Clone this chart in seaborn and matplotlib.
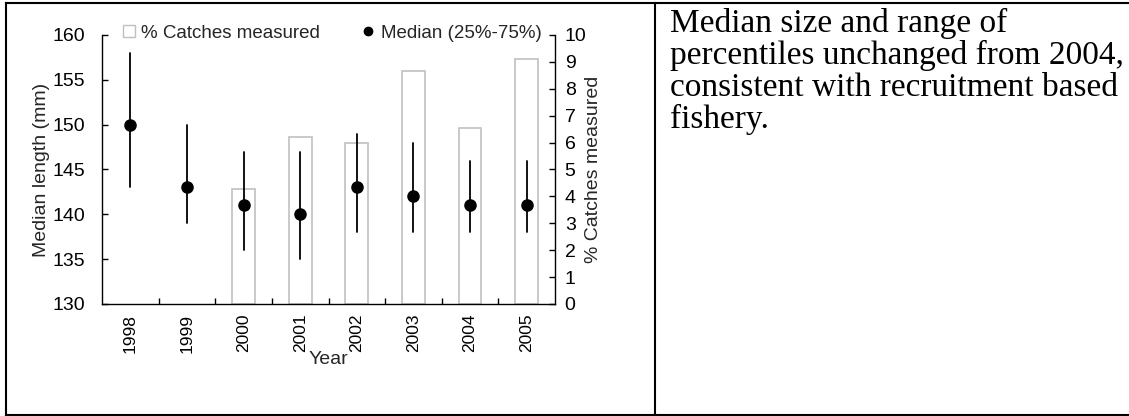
import numpy as np
import pandas as pd
import matplotlib
matplotlib.use("Agg")
import matplotlib.pyplot as plt
from matplotlib.lines import Line2D
import seaborn as sns

sns.set_theme(style="white")
plt.rcParams["font.family"] = ["Liberation Sans", "DejaVu Sans"]

# Year categories and length statistics (mm)
years = ["1998", "1999", "2000", "2001", "2002", "2003", "2004", "2005"]
median_len = [150, 143, 141, 140, 143, 142, 141, 141]
p25_len = [143, 139, 136, 135, 138, 138, 138, 138]
p75_len = [158, 150, 147, 147, 149, 148, 146, 146]

# Share of catches measured (%), no sampling before 2000
catch_years = ["2000", "2001", "2002", "2003", "2004", "2005"]
catch_pct = [4.27, 6.19, 5.97, 8.68, 6.53, 9.12]

note = ("Median size and range of\n"
        "percentiles unchanged from 2004,\n"
        "consistent with recruitment based\n"
        "fishery.")

W, H = 1129, 416
fig = plt.figure(figsize=(W / 100, H / 100), dpi=100)
fig.patch.set_facecolor("white")

# axes box in pixels: left 102, right 555, top 35, bottom 304
ax1 = fig.add_axes([102 / W, 1 - 304 / H, (555 - 102) / W, (304 - 35) / H])
ax2 = ax1.twinx()

bars = pd.DataFrame({"year": catch_years, "pct": catch_pct})
sns.barplot(data=bars, x="year", y="pct", order=years, ax=ax2,
            width=0.4, facecolor="none", edgecolor="#c0c0c0",
            linewidth=1.2, errorbar=None)

# long-form percentile table: the point is the median, whiskers span 25%-75%
stats = pd.DataFrame({
    "year": np.repeat(years, 3),
    "length": np.column_stack([p25_len, median_len, p75_len]).ravel(),
})
sns.pointplot(data=stats, x="year", y="length", order=years, ax=ax1,
              estimator="median", errorbar=lambda v: (v.min(), v.max()),
              color="black", linestyle="none", markers="o", markersize=7,
              err_kws={"linewidth": 1.3})

ax1.set_zorder(ax2.get_zorder() + 1)
ax1.patch.set_visible(False)

ax1.set_xlim(-0.5, len(years) - 0.5)
ax1.set_ylim(130, 160)
ax2.set_ylim(0, 10)
ax1.set_yticks(np.arange(130, 161, 5))
ax2.set_yticks(np.arange(0, 11, 1))

ax1.set_xticks(np.arange(len(years)))
ax1.set_xticklabels(years, rotation=90, fontsize=12.5)
ax1.set_xticks(np.arange(len(years) - 1) + 0.5, minor=True)
ax1.tick_params(axis="x", which="major", length=0, pad=7, colors="black")
ax1.tick_params(axis="x", which="minor", bottom=True, direction="in",
                length=4, width=1, color="black")
ax1.tick_params(axis="y", direction="in", length=4, width=1, pad=12,
                labelsize=14, left=True, colors="black")
ax2.tick_params(axis="y", direction="in", length=4, width=1, pad=7,
                labelsize=14, right=True, colors="black")

for a in (ax1, ax2):
    a.spines["top"].set_visible(False)
    for sp in a.spines.values():
        sp.set_color("black")
        sp.set_linewidth(1.0)
ax2.spines["left"].set_visible(False)
ax2.spines["bottom"].set_visible(False)
ax1.spines["right"].set_visible(False)

ax1.set_xlabel("Year", fontsize=14, va="center")
ax1.xaxis.set_label_coords(0.5, (304 - 360) / (304 - 35))
ax1.set_ylabel("Median length (mm)", fontsize=14, va="center")
ax1.yaxis.set_label_coords((42 - 102) / (555 - 102), 0.5)
ax2.set_ylabel("% Catches measured", fontsize=14, va="center", rotation=90)
ax2.yaxis.set_label_coords((593 - 102) / (555 - 102), 0.5)

handles = [
    Line2D([], [], linestyle="none", marker="s", markersize=8,
           markerfacecolor="white", markeredgecolor="#c0c0c0",
           markeredgewidth=1.0),
    Line2D([], [], linestyle="none", marker="o", markersize=6,
           markerfacecolor="black", markeredgecolor="black"),
]
fig.legend(handles, ["% Catches measured", "Median (25%-75%)"],
           loc="center left", bbox_to_anchor=(122 / W, 1 - 33 / H),
           ncol=2, frameon=False, fontsize=13.5, handlelength=0.7,
           handletextpad=0.3, columnspacing=2.25, borderpad=0,
           borderaxespad=0)

fig.text(670 / W, 1 - 8 / H, note, ha="left", va="top",
         family=["Liberation Serif", "DejaVu Serif"], fontsize=24,
         linespacing=1.04, color="black")

# surrounding table frame
frame_kw = dict(transform=fig.transFigure, color="black", linewidth=1.5,
                solid_capstyle="projecting")
fig.add_artist(Line2D([5.5 / W, 1.01], [1 - 3 / H, 1 - 3 / H], **frame_kw))
fig.add_artist(Line2D([5.5 / W, 1.01], [1 - 414.5 / H, 1 - 414.5 / H], **frame_kw))
fig.add_artist(Line2D([5.5 / W, 5.5 / W], [1 - 3 / H, 1 - 414.5 / H], **frame_kw))
fig.add_artist(Line2D([654.5 / W, 654.5 / W], [1 - 3 / H, 1 - 414.5 / H], **frame_kw))

fig.savefig("out.png", dpi=100)
